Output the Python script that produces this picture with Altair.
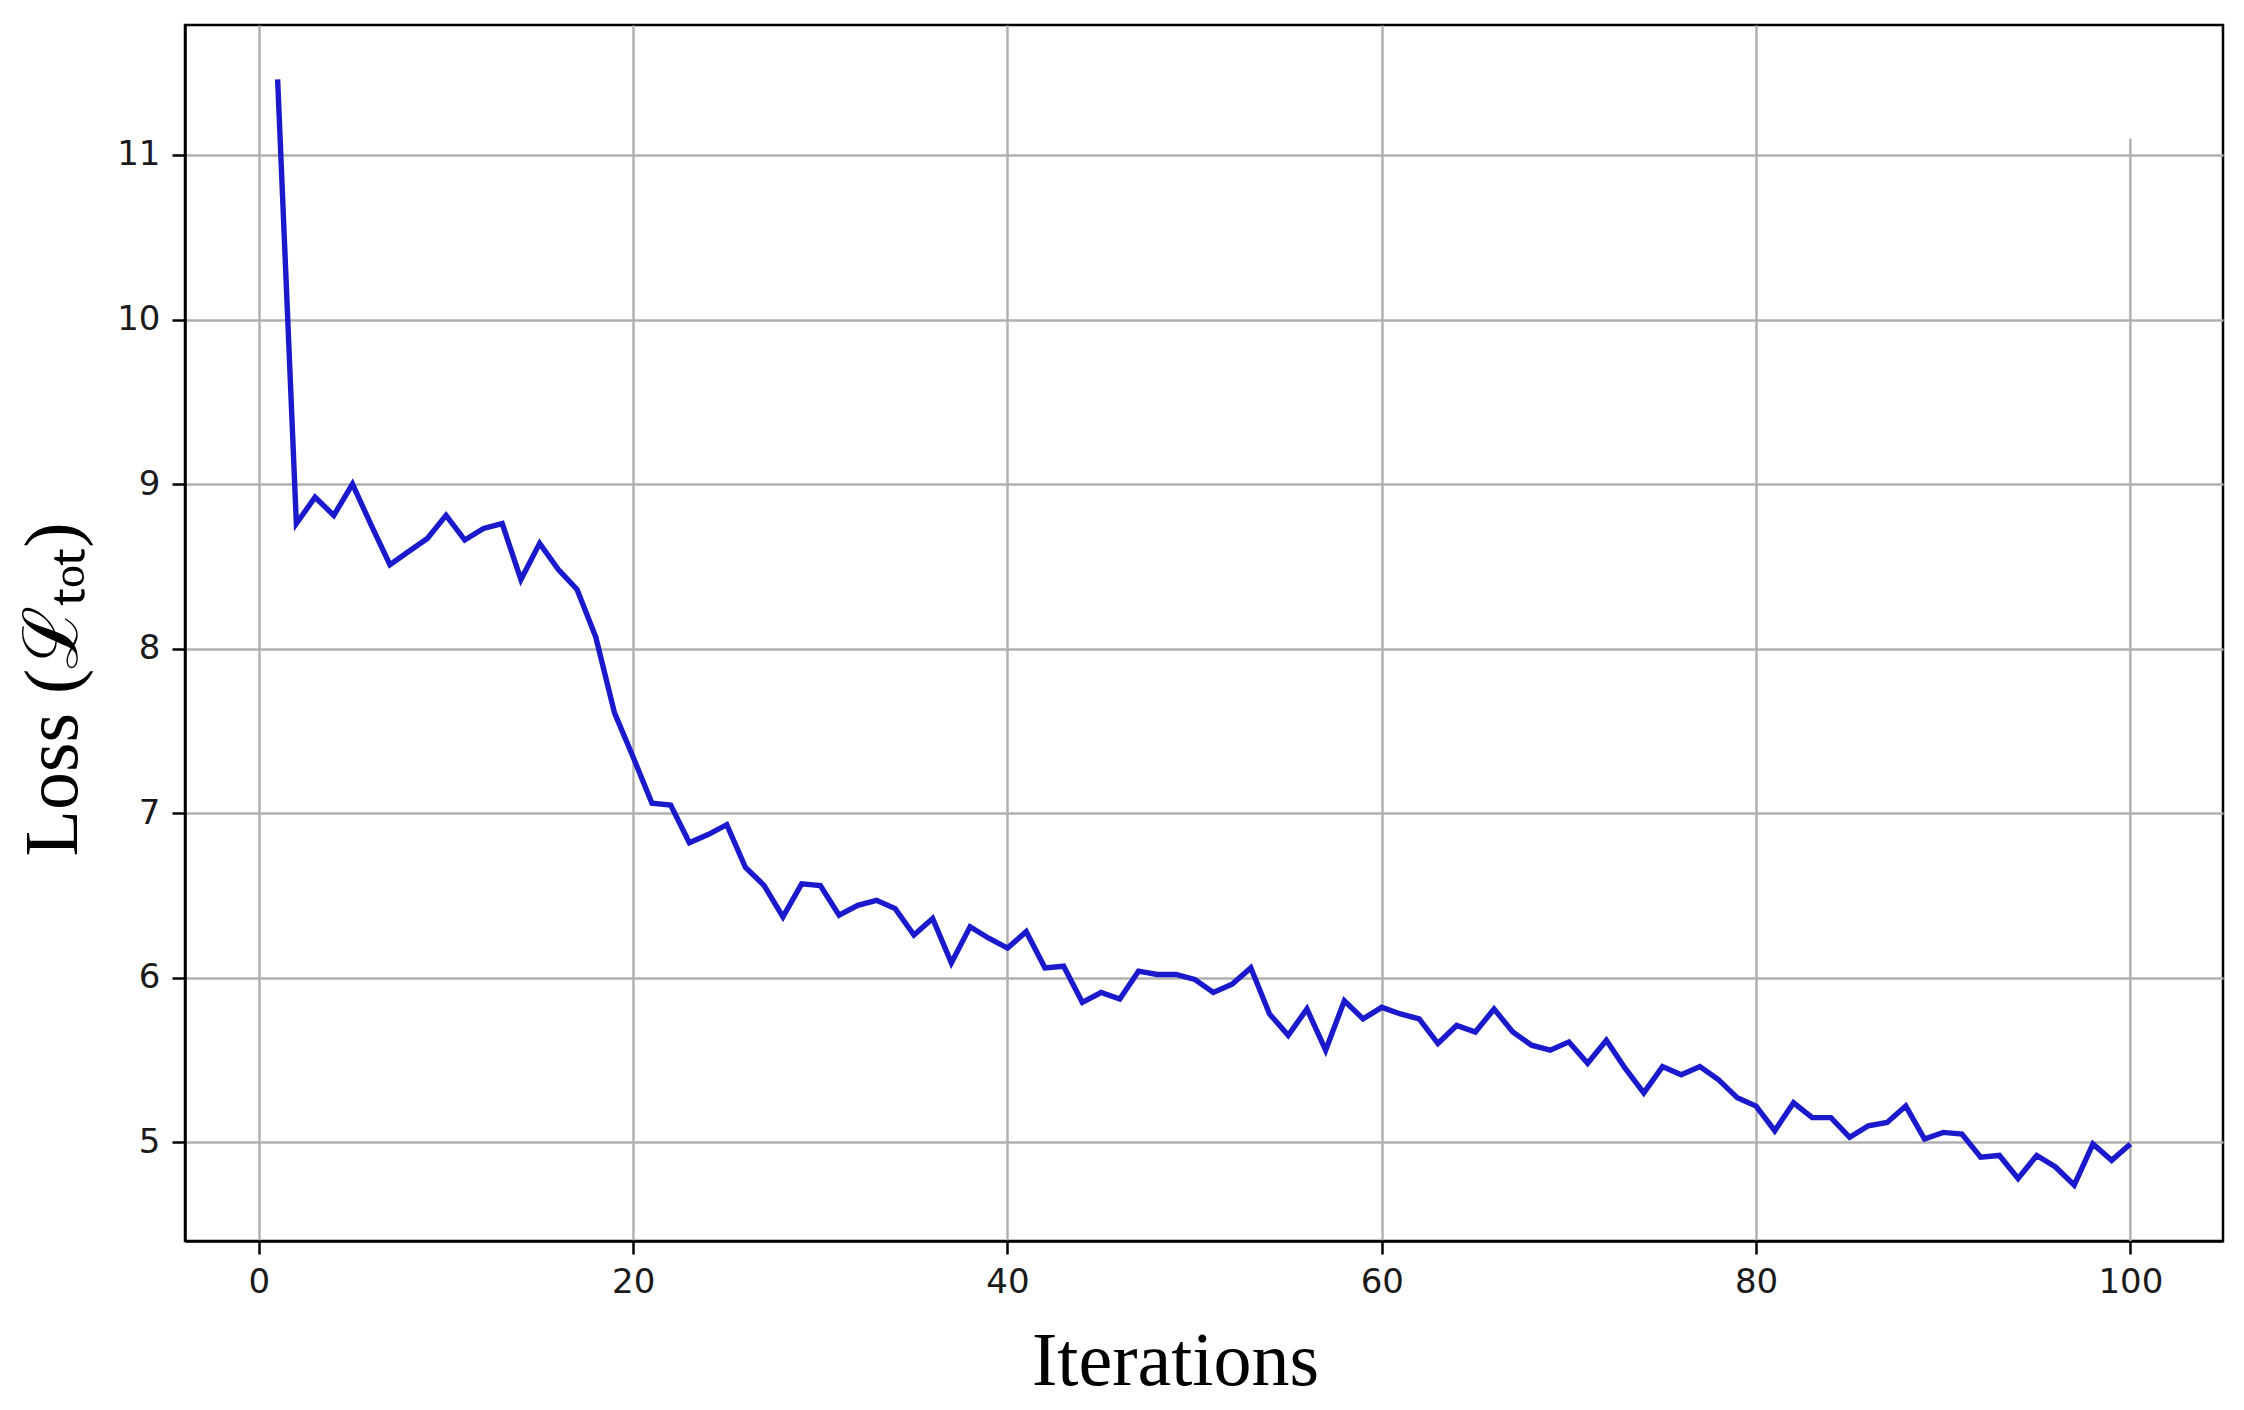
import altair as alt
import pandas as pd

# ---- data ----
iterations = list(range(1, 101))
loss = [
    11.46, 8.76, 8.92, 8.81, 9.00, 8.75, 8.51, 8.59, 8.67, 8.81,
    8.66, 8.73, 8.76, 8.42, 8.64, 8.48, 8.36, 8.07, 7.61, 7.34,
    7.06, 7.05, 6.82, 6.87, 6.93, 6.67, 6.56, 6.37, 6.57, 6.56,
    6.38, 6.44, 6.47, 6.42, 6.26, 6.36, 6.09, 6.31, 6.24, 6.18,
    6.28, 6.06, 6.07, 5.85, 5.91, 5.87, 6.04, 6.02, 6.02, 5.99,
    5.91, 5.96, 6.06, 5.78, 5.65, 5.81, 5.56, 5.86, 5.75, 5.82,
    5.78, 5.75, 5.60, 5.71, 5.67, 5.81, 5.67, 5.59, 5.56, 5.61,
    5.48, 5.62, 5.45, 5.30, 5.46, 5.41, 5.46, 5.38, 5.27, 5.22,
    5.07, 5.24, 5.15, 5.15, 5.03, 5.10, 5.12, 5.22, 5.02, 5.06,
    5.05, 4.91, 4.92, 4.78, 4.92, 4.85, 4.74, 4.99, 4.89, 4.99,
]
x_ticks = [0, 20, 40, 60, 80, 100]
y_ticks = [5, 6, 7, 8, 9, 10, 11]
x_domain = [-3.95, 104.95]
y_domain = [4.40, 11.79]

# the gridline at x=100 is shorter in the reference
short_grid_x = [100]
short_grid_bottom = [4.40]
short_grid_top = [11.10]

df = pd.DataFrame({"iteration": iterations, "loss": loss})
df_rule = pd.DataFrame({"iteration": short_grid_x, "loss": short_grid_bottom,
                        "loss_top": short_grid_top})

GRID = "#b0b0b0"

x_enc = alt.X(
    "iteration:Q",
    scale=alt.Scale(domain=x_domain, nice=False, zero=False),
    axis=alt.Axis(
        values=x_ticks,
        title="Iterations",
        titleX=990,
        titleY=143,
        titleAlign="center",
        titleBaseline="alphabetic",
        titleFontSize=76,
        labelPadding=11,
        labelFlush=False,
        gridOpacity={"condition": {"test": "datum.value === 100", "value": 0}, "value": 1},
    ),
)
y_enc = alt.Y(
    "loss:Q",
    scale=alt.Scale(domain=y_domain, nice=False, zero=False),
    axis=alt.Axis(
        values=y_ticks,
        title="Loss (ℒₜₒₜ)",
        titleAngle=270,
        titleX=-109,
        titleY=831,
        titleAlign="left",
        titleBaseline="alphabetic",
        titleFontSize=76,
        labelPadding=12,
        labelFlush=False,
    ),
)

rule = alt.Chart(df_rule).mark_rule(color=GRID, strokeWidth=2.5).encode(
    x=x_enc, y=y_enc, y2="loss_top:Q"
)
line = alt.Chart(df).mark_line(color="#1a1acc", strokeWidth=5.4).encode(
    x=x_enc, y=y_enc
)

chart = (
    alt.layer(rule, line)
    .properties(
        width=2038,
        height=1216,
        autosize=alt.AutoSizeParams(type="none"),
        padding={"left": 177, "top": 17, "right": 5, "bottom": 158},
        background="white",
    )
    .configure_view(stroke="black", strokeWidth=2.5)
    .configure_axis(
        domainColor="black",
        domainWidth=2.5,
        tickColor="black",
        tickWidth=2.5,
        tickSize=13,
        labelFont="DejaVu Sans",
        labelFontSize=34,
        labelColor="#1a1a1a",
        gridColor=GRID,
        gridWidth=2.5,
        titleFont="Liberation Serif",
        titleFontWeight="normal",
        titleColor="black",
    )
)

chart.save("out.html", embed_options={"renderer": "svg", "actions": False})
